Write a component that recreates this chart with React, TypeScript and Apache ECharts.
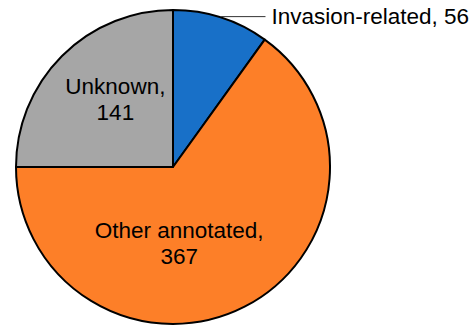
import React, { useEffect, useRef } from "react";
import * as echarts from "echarts";

const categories = ["Invasion-related", "Other annotated", "Unknown"];
const values = [56, 367, 141];
const colors = ["#1870c8", "#fd7f28", "#a6a6a6"];

export default function App() {
  const ref = useRef<HTMLDivElement>(null);
  useEffect(() => {
    if (!ref.current) return;
    const chart = echarts.init(ref.current, undefined, { renderer: "svg" });
    const font = { fontFamily: "'Liberation Sans', Arial, sans-serif", fontSize: 22.5, color: "#000", lineHeight: 26 };
    const offsets: Record<number, [number, number]> = { 1: [-31, 4], 2: [0, -10] };
    chart.setOption({
      animation: false,
      backgroundColor: "#ffffff",
      series: [
        {
          type: "pie",
          center: [173, 167],
          radius: 157,
          startAngle: 90,
          clockwise: true,
          avoidLabelOverlap: false,
          itemStyle: { borderColor: "#000", borderWidth: 2 },
          emphasis: { disabled: true },
          labelLayout: (p: any) => {
            const o = offsets[p.dataIndex];
            return o ? { dx: o[0], dy: o[1] } : {};
          },
          data: categories.map((name, i) => ({
            name,
            value: values[i],
            itemStyle: { color: colors[i] },
            label:
              i === 0
                ? {
                    show: true,
                    position: "outside",
                    formatter: "{b}, {c}",
                    ...font,
                    distanceToLabelLine: 6,
                  }
                : {
                    show: true,
                    position: "inside",
                    formatter: "{b},\n{c}",
                    align: "center",
                    ...font,
                  },
            labelLine:
              i === 0
                ? { show: true, length: 1, length2: 44, lineStyle: { color: "#333", width: 1 } }
                : { show: false },
          })),
        },
      ],
    });
    return () => chart.dispose();
  }, []);
  return <div ref={ref} style={{ position: "absolute", left: 0, top: 0, width: 475, height: 325 }} />;
}
